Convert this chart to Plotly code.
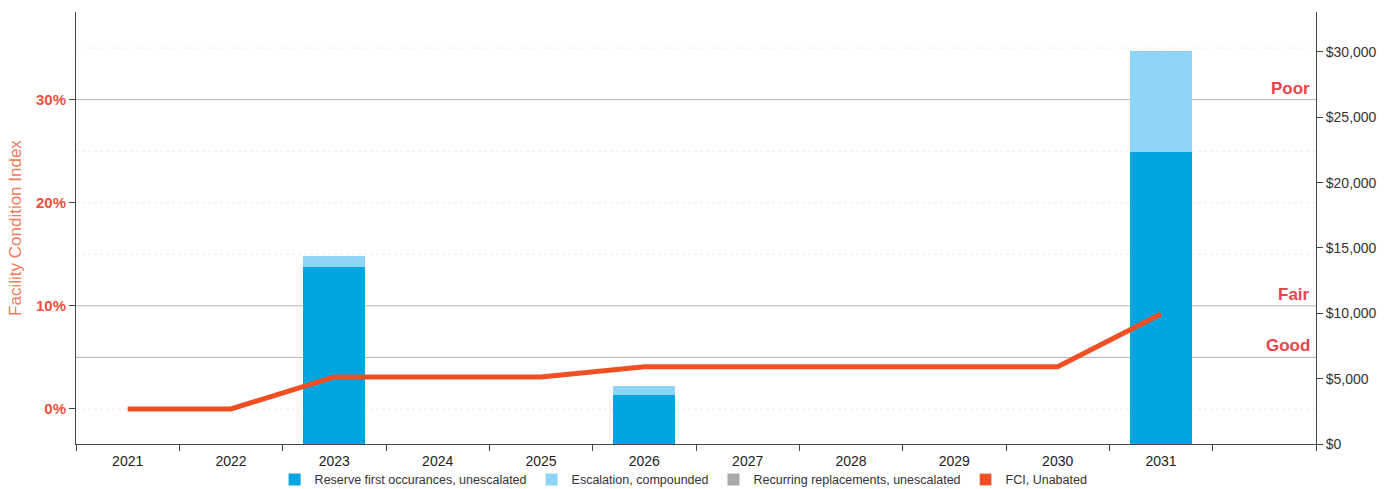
import plotly.graph_objects as go

# Fiscal years shown on the horizontal axis (one spare slot after the last year)
years = ["2021", "2022", "2023", "2024", "2025", "2026", "2027", "2028", "2029", "2030", "2031"]
slots = years + [" "]

# Capital needs per year, dollars
reserve_first = [0, 0, 13550, 0, 0, 3750, 0, 0, 0, 0, 22350]
escalation = [0, 0, 840, 0, 0, 710, 0, 0, 0, 0, 7750]
recurring = [0, 0, 0, 0, 0, 0, 0, 0, 0, 0, 0, 0]

# Facility Condition Index, percent
fci = [0, 0, 3.1, 3.1, 3.1, 4.1, 4.1, 4.1, 4.1, 4.1, 9.2]

# Axis ticks
dollar_ticks = [0, 5000, 10000, 15000, 20000, 25000, 30000]
dollar_labels = ["$0", "$5,000", "$10,000", "$15,000", "$20,000", "$25,000", "$30,000"]
pct_ticks = [0, 10, 20, 30]
pct_labels = ["0%", "10%", "20%", "30%"]

# Condition thresholds, percent
thresholds = {"Good": 5, "Fair": 10, "Poor": 30}
faint_levels = [0, 15, 20, 25, 35]

FONT = "Liberation Sans, Arial, sans-serif"
C_RESERVE = "#00A6E2"
C_ESC = "#8DD5F6"
C_REC = "#A9A9A9"
C_FCI = "#F04E23"
C_RED = "#E8454B"

fig = go.Figure()

fig.add_trace(go.Bar(x=years, y=reserve_first, name="Reserve first occurances, unescalated",
                     marker=dict(color=C_RESERVE, line=dict(width=0)), width=0.6, yaxis="y"))
fig.add_trace(go.Bar(x=years, y=escalation, name="Escalation, compounded",
                     marker=dict(color=C_ESC, line=dict(width=0)), width=0.6, yaxis="y"))
fig.add_trace(go.Bar(x=slots, y=recurring, name="Recurring replacements, unescalated",
                     marker=dict(color=C_REC, line=dict(width=0)), width=0.6, yaxis="y"))
# legend swatch for the FCI series
fig.add_trace(go.Bar(x=[years[0]], y=[None], name="FCI, Unabated",
                     marker=dict(color=C_FCI), yaxis="y"))
fig.add_trace(go.Scatter(x=years, y=fci, mode="lines", name="FCI, Unabated", showlegend=False,
                         line=dict(color=C_FCI, width=5), yaxis="y2"))

shapes = []
for lv in faint_levels:
    shapes.append(dict(type="line", xref="paper", x0=0, x1=1, yref="y2", y0=lv, y1=lv,
                       line=dict(color="#EDEDED", width=1, dash="dot"), layer="below"))
for name, lv in thresholds.items():
    shapes.append(dict(type="line", xref="paper", x0=0, x1=1, yref="y2", y0=lv, y1=lv,
                       line=dict(color="#B4B4B4", width=1), layer="below"))

annotations = []
for name, lv in thresholds.items():
    annotations.append(dict(text=name, xref="paper", x=0.997, xanchor="right", yref="y2", y=lv,
                            yanchor="bottom", yshift=0, showarrow=False,
                            font=dict(family=FONT, size=17, color=C_RED, weight="bold")))

fig.update_layout(
    width=1400, height=489,
    margin=dict(l=76, r=84, t=12, b=45, autoexpand=False),
    paper_bgcolor="white", plot_bgcolor="white",
    barmode="stack", bargap=0.4,
    font=dict(family=FONT, color="#333333"),
    shapes=shapes, annotations=annotations,
    xaxis=dict(type="category", categoryorder="array", categoryarray=slots,
               range=[-0.5, 11.5], tickson="boundaries", ticks="outside", ticklen=6,
               ticklabelstandoff=4,
               tickcolor="#444", showline=True, linecolor="#444", linewidth=1,
               showgrid=False, tickfont=dict(size=14, color="#222")),
    yaxis=dict(side="right", range=[0, 33060], tickmode="array", tickvals=dollar_ticks,
               ticktext=dollar_labels, ticks="outside", ticklen=6, tickcolor="#444",
               showline=True, linecolor="#444", linewidth=1, showgrid=False, zeroline=False,
               tickfont=dict(size=14, color="#333")),
    yaxis2=dict(overlaying="y", side="left", range=[-3.4, 38.5], tickmode="array",
                tickvals=pct_ticks, ticktext=pct_labels, ticks="outside", ticklen=6,
                tickcolor="#444", showline=True, linecolor="#444", linewidth=1,
                showgrid=False, zeroline=False,
                tickfont=dict(size=15, color="#F0503C", weight="bold"),
                title=dict(text="Facility Condition Index", standoff=10,
                           font=dict(size=17, color="#F07A5A"))),
    legend=dict(orientation="h", x=0.49, xanchor="center", yref="paper", y=-0.0486,
                yanchor="top", font=dict(size=12.5, color="#333"), traceorder="normal",
                itemwidth=30, tracegroupgap=0, bgcolor="rgba(0,0,0,0)"),
)

fig.write_html("out.html")
